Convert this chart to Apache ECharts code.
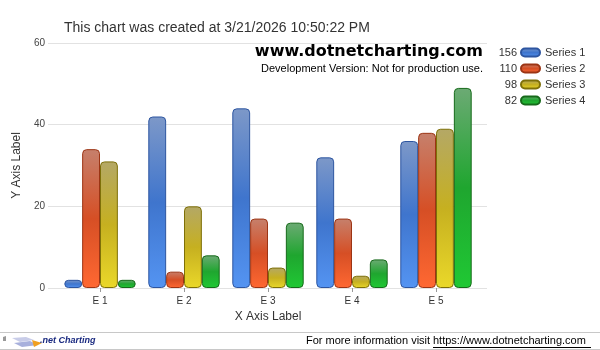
<!DOCTYPE html>
<html><head><meta charset="utf-8">
<script src="https://cdn.jsdelivr.net/npm/echarts@6/dist/echarts.min.js"></script>
<style>html,body{margin:0;padding:0;background:#fff}#c{width:600px;height:350px}</style>
</head><body><div id="c"></div>
<script>
const categories = ['E 1','E 2','E 3','E 4','E 5'];
const seriesNames = ['Series 1','Series 2','Series 3','Series 4'];
const series1 = [2, 42, 44, 32, 36];
const series2 = [34, 4, 17, 17, 38];
const series3 = [31, 20, 5, 3, 39];
const series4 = [2, 8, 16, 7, 49];
const yTicks = [0, 20, 40, 60];

const allData = [series1, series2, series3, series4];
const palette = [
  {top:'#7d98c8', mid:'#3f75cd', bot:'#5494f2', border:'#2d55a0'},
  {top:'#c6806c', mid:'#d64f25', bot:'#ff6832', border:'#9c3414'},
  {top:'#b4a866', mid:'#c6b020', bot:'#ead82a', border:'#7e7008'},
  {top:'#6caa74', mid:'#1fa62f', bot:'#20c834', border:'#166a1a'}
];
function grad(p){
  return new echarts.graphic.LinearGradient(0,0,0,1,[
    {offset:0,color:p.top},{offset:0.5,color:p.mid},{offset:1,color:p.bot}]);
}
const FONT = '"Liberation Sans", Arial, sans-serif';
const chart = echarts.init(document.getElementById('c'), null, {renderer:'canvas'});
const totals = allData.map(a => a.reduce((s,v)=>s+v,0));
const legendTop = 46, rowH = 16;
const pill = 'path://M4,0 L15,0 A4,4 0 0 1 15,8 L4,8 A4,4 0 0 1 4,0 Z';

chart.setOption({
  animation:false,
  backgroundColor:'#fff',
  textStyle:{fontFamily:FONT},
  grid:[
    {left:58, right:122, top:43, bottom:62},
    {left:48, right:113, top:43, bottom:62}
  ],
  legend:{
    orient:'vertical', left:520, top:legendTop, padding:0,
    itemWidth:19, itemHeight:9, itemGap:3, icon:pill,
    textStyle:{fontSize:11, color:'#333', fontFamily:FONT, lineHeight:13},
    data:seriesNames
  },
  xAxis:[
    {type:'category', gridIndex:0, data:categories,
     name:'X Axis Label', nameLocation:'middle', nameGap:21,
     nameTextStyle:{fontSize:12, color:'#333', fontFamily:FONT},
     axisLine:{show:false},
     axisTick:{show:true, alignWithLabel:true, length:4, lineStyle:{color:'#999'}},
     axisLabel:{fontSize:10, color:'#333', margin:8, fontFamily:FONT},
     splitLine:{show:false}},
    {type:'category', gridIndex:1, data:categories, show:false}
  ],
  yAxis:[
    {type:'value', gridIndex:0, min:0, max:60, interval:20,
     name:'Y Axis Label', nameLocation:'middle', nameGap:24,
     nameTextStyle:{fontSize:12, color:'#333', fontFamily:FONT},
     axisLine:{show:false}, axisTick:{show:false},
     axisLabel:{fontSize:10, color:'#444', margin:13, fontFamily:FONT,
       formatter:v => yTicks.includes(v) ? String(v) : ''},
     splitLine:{show:false}},
    {type:'value', gridIndex:1, min:0, max:60, interval:20,
     axisLine:{show:false}, axisTick:{show:false}, axisLabel:{show:false},
     splitLine:{show:true, lineStyle:{color:'#e2e2e2', width:1}}}
  ],
  series: allData.map((d,i)=>({
    name:seriesNames[i], type:'bar', xAxisIndex:0, yAxisIndex:0,
    data:d, barGap:'0%', barCategoryGap:'15%',
    itemStyle:{color:grad(palette[i]), borderColor:palette[i].border, borderWidth:1, borderRadius:4}
  })),
  graphic:[
    {type:'text', left:64, top:21, style:{text:'This chart was created at 3/21/2026 10:50:22 PM', font:'14px '+FONT, fill:'#333'}},
    {type:'text', right:117, top:44, style:{text:'www.dotnetcharting.com', font:'bold 16px "DejaVu Sans", Verdana, sans-serif', fill:'#000'}},
    {type:'text', right:117, top:63, style:{text:'Development Version: Not for production use.', font:'11px '+FONT, fill:'#000'}},
    ...totals.map((t,i)=>({type:'text', right:83, top:legendTop+1.5+i*rowH, style:{text:String(t), font:'11px '+FONT, fill:'#333', align:'right'}})),
    {type:'line', shape:{x1:0,y1:332.5,x2:600,y2:332.5}, style:{stroke:'#c8c8c8', lineWidth:1}},
    {type:'line', shape:{x1:0,y1:349.5,x2:600,y2:349.5}, style:{stroke:'#c8c8c8', lineWidth:1}},
    {type:'polygon', shape:{points:[[3,337],[6,336],[6,341],[3,341]]}, style:{fill:'#999'}},
    {type:'polygon', shape:{points:[[12,338],[26,337],[34,340],[20,342]]}, style:{fill:'#c8cce8'}},
    {type:'polygon', shape:{points:[[14,343],[30,341],[38,345],[22,347]]}, style:{fill:'#a8b0dc'}},
    {type:'polygon', shape:{points:[[32,340],[42,343],[34,347]]}, style:{fill:'#f0a020'}},
    {type:'text', left:40, top:336, style:{text:'.net Charting', font:'italic bold 9px '+FONT, fill:'#1a2a80'}},
    {type:'text', left:306, top:335, style:{text:'For more information visit', font:'11px '+FONT, fill:'#000'}},
    {type:'text', left:433, top:335, style:{text:'https://www.dotnetcharting.com', font:'11px '+FONT, fill:'#000'}},
    {type:'line', shape:{x1:433,y1:347.5,x2:591,y2:347.5}, style:{stroke:'#000', lineWidth:1}}
  ]
});
</script></body></html>
